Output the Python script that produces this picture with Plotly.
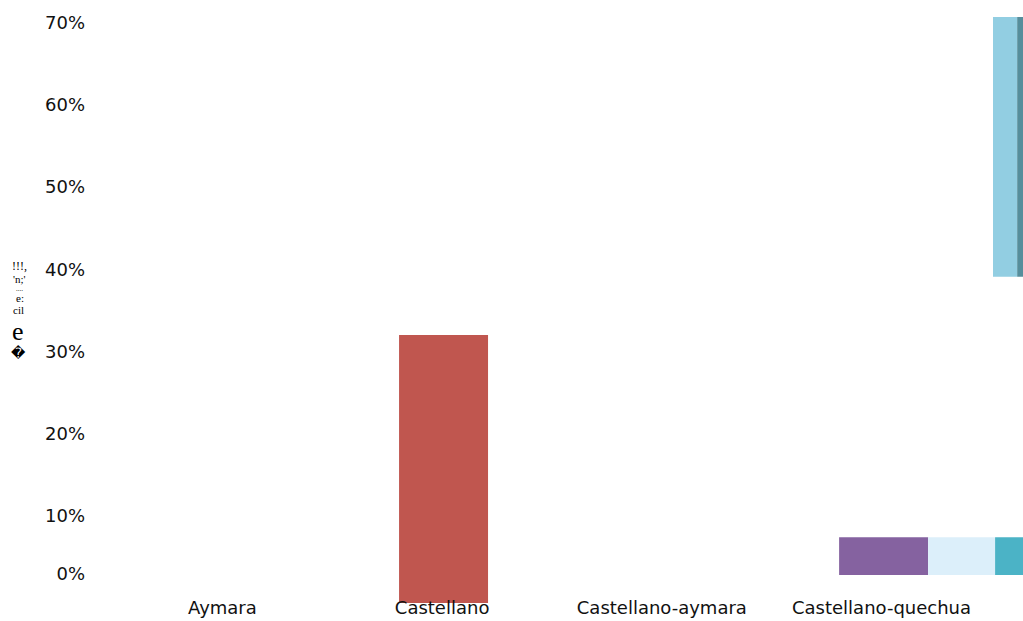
import plotly.graph_objects as go

# ---- data ----
categories = ["Aymara", "Castellano", "Castellano-aymara", "Castellano-quechua"]

castellano_top = [None, 32.0, None, None]
castellano_base = [None, -1.0, None, None]

quechua_a_top = [None, None, None, 7.4]
quechua_b_top = [None, None, None, 7.4]
quechua_c_top = [None, None, None, 7.4]
quechua_base = [None, None, None, 2.8]

tall_top = [None, None, None, 70.7]
tall_base = [None, None, None, 39.1]

tick_vals = [3, 10, 20, 30, 40, 50, 60, 70]
tick_text = ["0%", "10%", "20%", "30%", "40%", "50%", "60%", "70%"]

axis_title_bits = ["!!!,", "'n;'", "....", "e:", "cil", "e", "\ufffd"]

# ---- figure ----
W, H = 1023, 621
ML, MR, MT, MB = 95, 0, 0, 18
PW, PH = W - ML - MR, H - MT - MB


def bar(y, base, color, offset, width):
    return go.Bar(x=categories, y=[None if (v is None) else v - b for v, b in zip(y, base)],
                  base=base, marker=dict(color=color, line=dict(width=0)),
                  offset=offset, width=width, hoverinfo="skip")


fig = go.Figure()
fig.add_trace(bar(castellano_top, castellano_base, "#C0564F", -0.196, 0.405))
fig.add_trace(bar(quechua_a_top, quechua_base, "#8562A0", -0.193, 0.405))
fig.add_trace(bar(quechua_b_top, quechua_base, "#DCEFFA", 0.212, 0.305))
fig.add_trace(bar(quechua_c_top, quechua_base, "#4BB3C6", 0.517, 0.2))
fig.add_trace(bar(tall_top, tall_base, "#92CEE2", 0.5075, 0.11))
fig.add_trace(bar(tall_top, tall_base, "#568E9C", 0.6175, 0.1))


def px_to_paper(px, py):
    return (px - ML) / PW, (H - MB - py) / PH


annots = []
bits_pos = [(19, 266, 12, "Liberation Serif"), (19, 279, 11, "Liberation Serif"),
            (19, 289, 7, "Liberation Serif"), (20, 298, 11, "Liberation Serif"),
            (18, 310, 11, "Liberation Sans Narrow"), (18, 331, 26, "Liberation Serif"),
            (18, 353, 14, "DejaVu Sans")]
for t, (px, py, fs, fam) in zip(axis_title_bits, bits_pos):
    xp, yp = px_to_paper(px, py)
    annots.append(dict(x=xp, y=yp, xref="paper", yref="paper", text=t, showarrow=False,
                       font=dict(family=fam, size=fs, color="black"),
                       xanchor="center", yanchor="middle"))

fig.update_layout(
    width=W, height=H,
    margin=dict(l=ML, r=MR, t=MT, b=MB, pad=0),
    paper_bgcolor="white", plot_bgcolor="white",
    showlegend=False,
    barmode="overlay",
    font=dict(family="DejaVu Sans", size=18, color="#111111"),
    xaxis=dict(range=[-0.580, 3.644], showgrid=False, zeroline=False, showline=False,
               ticks="", tickfont=dict(size=18), ticklabelstandoff=-8),
    yaxis=dict(range=[-0.61, 72.78], showgrid=False, zeroline=False, showline=False,
               ticks="", tickvals=tick_vals, ticktext=tick_text, tickfont=dict(size=18),
               ticklabelstandoff=9),
    annotations=annots,
)

fig.write_html("out.html", config={"displayModeBar": False},
               post_script="document.body.style.margin='0';document.body.style.overflow='hidden';")
